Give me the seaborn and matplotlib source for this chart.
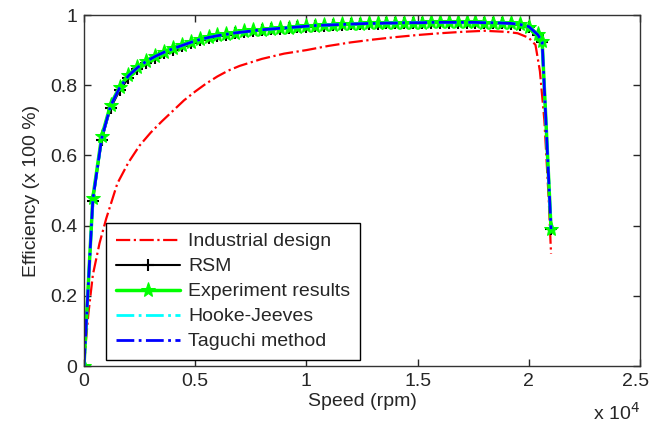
import matplotlib
matplotlib.use("Agg")
import matplotlib.pyplot as plt
import matplotlib.transforms as mtransforms
import seaborn as sns

# speed (rpm) and efficiency (x 100 %)
speed_ind = [0, 100, 200, 400, 700, 1000, 1500, 2000, 2500, 3000, 3500, 4000, 4500,
             5000, 5500, 6000, 6500, 7000, 8000, 9000, 10000, 11000, 12000, 13000,
             14000, 15000, 16000, 17000, 18000, 19000, 19500, 20000, 20300, 20500,
             20700, 20900, 21000]
eff_ind = [0.0, 0.08, 0.15, 0.26, 0.35, 0.42, 0.52, 0.58, 0.628, 0.665, 0.697, 0.727,
           0.757, 0.782, 0.805, 0.825, 0.842, 0.855, 0.875, 0.89, 0.90, 0.912, 0.922,
           0.93, 0.937, 0.943, 0.948, 0.952, 0.955, 0.952, 0.948, 0.935, 0.915, 0.84,
           0.70, 0.47, 0.32]

speed_opt = [0, 400, 800, 1200, 1600, 2000, 2400, 2800, 3200, 3600, 4000, 4400, 4800,
             5200, 5600, 6000, 6400, 6800, 7200, 7600, 8000, 8400, 8800, 9200, 9600,
             10000, 10400, 10800, 11200, 11600, 12000, 12400, 12800, 13200, 13600,
             14000, 14400, 14800, 15200, 15600, 16000, 16400, 16800, 17200, 17600,
             18000, 18400, 18800, 19200, 19600, 20000, 20400, 20600, 21000]
eff_exp = [0.0, 0.48, 0.655, 0.745, 0.795, 0.83, 0.852, 0.870, 0.884, 0.896, 0.906,
           0.915, 0.924, 0.931, 0.937, 0.942, 0.946, 0.950, 0.953, 0.956, 0.958, 0.960,
           0.962, 0.964, 0.966, 0.968, 0.970, 0.971, 0.972, 0.973, 0.974, 0.975, 0.976,
           0.976, 0.977, 0.977, 0.978, 0.978, 0.978, 0.979, 0.979, 0.979, 0.979, 0.979,
           0.979, 0.978, 0.978, 0.977, 0.976, 0.973, 0.967, 0.945, 0.925, 0.39]
eff_rsm = [0.0, 0.47, 0.645, 0.735, 0.785, 0.82, 0.845, 0.863, 0.878, 0.891, 0.901,
           0.911, 0.920, 0.928, 0.934, 0.939, 0.944, 0.948, 0.951, 0.954, 0.957, 0.959,
           0.961, 0.963, 0.965, 0.967, 0.969, 0.970, 0.971, 0.972, 0.973, 0.974, 0.975,
           0.975, 0.976, 0.976, 0.977, 0.977, 0.977, 0.978, 0.978, 0.978, 0.978, 0.978,
           0.978, 0.977, 0.977, 0.976, 0.975, 0.972, 0.966, 0.943, 0.923, 0.39]
eff_taguchi = [0.0, 0.475, 0.65, 0.742, 0.792, 0.827, 0.850, 0.868, 0.882, 0.894, 0.904,
               0.913, 0.922, 0.930, 0.936, 0.941, 0.945, 0.949, 0.952, 0.955, 0.958, 0.960,
               0.962, 0.964, 0.966, 0.968, 0.970, 0.971, 0.972, 0.973, 0.974, 0.975, 0.976,
               0.976, 0.977, 0.977, 0.978, 0.978, 0.978, 0.979, 0.979, 0.979, 0.979, 0.979,
               0.979, 0.978, 0.978, 0.977, 0.976, 0.973, 0.967, 0.944, 0.924, 0.39]
# Hooke-Jeeves sits right under the Taguchi curve
eff_hooke = eff_taguchi[:]

xticks = [0, 5000, 10000, 15000, 20000, 25000]
xtick_labels = ['0', '0.5', '1', '1.5', '2', '2.5']
yticks = [0, 0.2, 0.4, 0.6, 0.8, 1.0]
ytick_labels = ['0', '0.2', '0.4', '0.6', '0.8', '1']

sns.set_style('ticks', {'xtick.direction': 'in', 'ytick.direction': 'in'})
plt.rcParams['font.family'] = ['Liberation Sans', 'DejaVu Sans']
plt.rcParams['font.size'] = 14

fig = plt.figure(figsize=(6.52, 4.25), dpi=100)
ax = fig.add_axes([0.1288, 0.1388, 0.8528, 0.8259])

sns.lineplot(x=speed_ind, y=eff_ind, ax=ax, color='red', linestyle='-.',
             linewidth=1.6, label='Industrial design', sort=False)
sns.lineplot(x=speed_opt, y=eff_rsm, ax=ax, color='black', linestyle='-',
             linewidth=1.5, marker='+', markersize=9, markeredgewidth=1.5,
             markeredgecolor='black', label='RSM', sort=False)
sns.lineplot(x=speed_opt, y=eff_exp, ax=ax, color='#00ff00', linestyle='-',
             linewidth=2.5, marker='*', markersize=11, markeredgecolor='#00ff00',
             label='Experiment results', sort=False)
sns.lineplot(x=speed_opt, y=eff_hooke, ax=ax, color='cyan', linestyle='-.',
             linewidth=2, label='Hooke-Jeeves', sort=False)
sns.lineplot(x=speed_opt, y=eff_taguchi, ax=ax, color='blue', linestyle='-.',
             linewidth=2, label='Taguchi method', sort=False)

ax.set_xlim(0, 25000)
ax.set_ylim(0, 1)
ax.set_xticks(xticks)
ax.set_xticklabels(xtick_labels)
ax.set_yticks(yticks)
ax.set_yticklabels(ytick_labels)
ax.tick_params(top=True, right=True, length=5, width=1, pad=5)
for s in ax.spines.values():
    s.set_linewidth(1)
    s.set_color('#333333')

# nudge the last x label so it stays inside the canvas
last = ax.get_xticklabels()[-1]
last.set_transform(last.get_transform() +
                   mtransforms.ScaledTranslation(-3 / 72, 0, fig.dpi_scale_trans))

ax.set_xlabel('Speed (rpm)', labelpad=2)
ax.set_ylabel('Efficiency (x 100 %)', labelpad=7)
fig.text(640 / 652, 12 / 425, 'x 10$^4$', ha='right', va='center', fontsize=14)

leg = ax.legend(loc='lower left', bbox_to_anchor=(0.04, 0.017), fancybox=False,
                framealpha=1, edgecolor='black', handlelength=3.3,
                handletextpad=0.4, labelspacing=0.38, borderaxespad=0,
                borderpad=0.5)
leg.get_frame().set_linewidth(1)

fig.savefig('out.png', dpi=100)
